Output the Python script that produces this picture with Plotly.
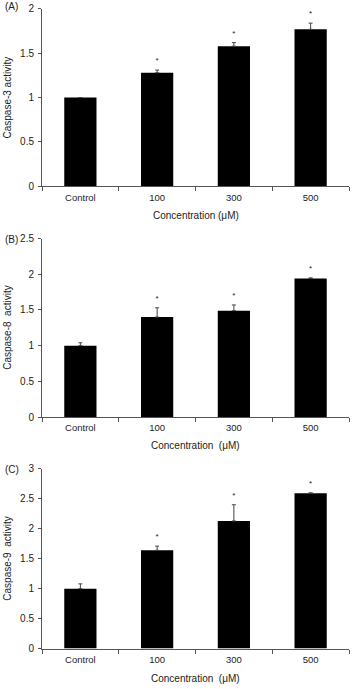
import plotly.graph_objects as go

categories = ["Control", "100", "300", "500"]

casp3 = [1.00, 1.28, 1.58, 1.77]
casp3_err = [0.0, 0.03, 0.04, 0.07]
casp3_star = ["", "*", "*", "*"]

casp8 = [1.00, 1.40, 1.49, 1.94]
casp8_err = [0.04, 0.13, 0.08, 0.01]
casp8_star = ["", "*", "*", "*"]

casp9 = [1.00, 1.64, 2.13, 2.59]
casp9_err = [0.08, 0.07, 0.27, 0.01]
casp9_star = ["", "*", "*", "*"]

y3_ticks = [0, 0.5, 1, 1.5, 2]
y8_ticks = [0, 0.5, 1, 1.5, 2, 2.5]
y9_ticks = [0, 0.5, 1, 1.5, 2, 2.5, 3]

W, H = 356, 689
FONT = "Liberation Sans, Arial, sans-serif"
AX = "#555555"

panels = [
    dict(vals=casp3, err=casp3_err, star=casp3_star, ticks=y3_ticks, ymax=2,
         top=3, bottom=183.3, ytitle="Caspase-3 activity", xtitle="Concentration (μM)",
         label="(A)", label_y=0, xtitle_y=213),
    dict(vals=casp8, err=casp8_err, star=casp8_star, ticks=y8_ticks, ymax=2.5,
         top=236.7, bottom=418.3, ytitle="Caspase-8\u00a0 activity", xtitle="Concentration\u00a0 (μM)",
         label="(B)", label_y=237.5, xtitle_y=447),
    dict(vals=casp9, err=casp9_err, star=casp9_star, ticks=y9_ticks, ymax=3,
         top=471, bottom=654, ytitle="Caspase-9\u00a0 activity", xtitle="Concentration\u00a0 (μM)",
         label="(C)", label_y=472, xtitle_y=684),
]

x0, x1 = 42, 349
fig = go.Figure()
annotations = []
layout = {}
for i, p in enumerate(panels, start=1):
    sfx = "" if i == 1 else str(i)
    xa, ya = "x" + sfx, "y" + sfx
    fig.add_trace(go.Bar(
        x=categories, y=p["vals"], xaxis=xa, yaxis=ya, width=0.42,
        marker=dict(color="black", line=dict(width=0)),
        error_y=dict(type="data", array=p["err"], arrayminus=[0] * 4, visible=True,
                     color="#444444", thickness=1, width=2),
        showlegend=False,
    ))
    tops = [v + e for v, e in zip(p["vals"], p["err"])]
    fig.add_trace(go.Scatter(
        x=categories, y=tops, xaxis=xa, yaxis=ya, mode="markers+text", text=p["star"],
        marker=dict(size=6, color="rgba(0,0,0,0)"),
        textposition="top center", textfont=dict(size=8, color="#222", family=FONT),
        showlegend=False, hoverinfo="skip", cliponaxis=False,
    ))
    ydom = [1 - p["bottom"] / H, 1 - p["top"] / H]
    layout["xaxis" + sfx] = dict(
        domain=[x0 / W, x1 / W], anchor=ya, type="category",
        range=[-0.5, 3.5], showline=True, linecolor=AX, linewidth=1,
        ticks="outside", ticklen=4, tickcolor=AX, tickson="boundaries",
        tickfont=dict(size=9.5, color="#222", family=FONT), ticklabelstandoff=2,
        showgrid=False, zeroline=False,
    )
    layout["yaxis" + sfx] = dict(
        domain=ydom, anchor=xa, range=[0, p["ymax"]], tickvals=p["ticks"],
        ticktext=[("%g" % t) for t in p["ticks"]],
        showline=True, linecolor=AX, linewidth=1, ticks="outside", ticklen=3,
        tickcolor=AX, tickfont=dict(size=10, color="#222", family=FONT),
        showgrid=False, zeroline=False, ticklabelstandoff=2,
    )
    annotations.append(dict(
        text=p["xtitle"], xref="paper", yref="paper", x=(x0 + x1) / 2 / W,
        y=1 - p["xtitle_y"] / H, xanchor="center", yanchor="middle", showarrow=False,
        font=dict(size=10, color="#222", family=FONT)))
    annotations.append(dict(
        text=p["ytitle"], xref="paper", yref="paper", x=8 / W,
        y=1 - (p["top"] + p["bottom"]) / 2 / H, xanchor="center", yanchor="middle",
        textangle=-90, showarrow=False, font=dict(size=10, color="#222", family=FONT)))
    annotations.append(dict(
        text=p["label"], xref="paper", yref="paper", x=3 / W, y=1 - p["label_y"] / H,
        xanchor="left", yanchor="middle", showarrow=False,
        font=dict(size=10, color="#222", family=FONT)))

fig.update_layout(
    width=W, height=H, margin=dict(l=0, r=0, t=0, b=0),
    paper_bgcolor="white", plot_bgcolor="white",
    annotations=annotations, bargap=0.58, **layout,
)
fig.write_html("out.html")
